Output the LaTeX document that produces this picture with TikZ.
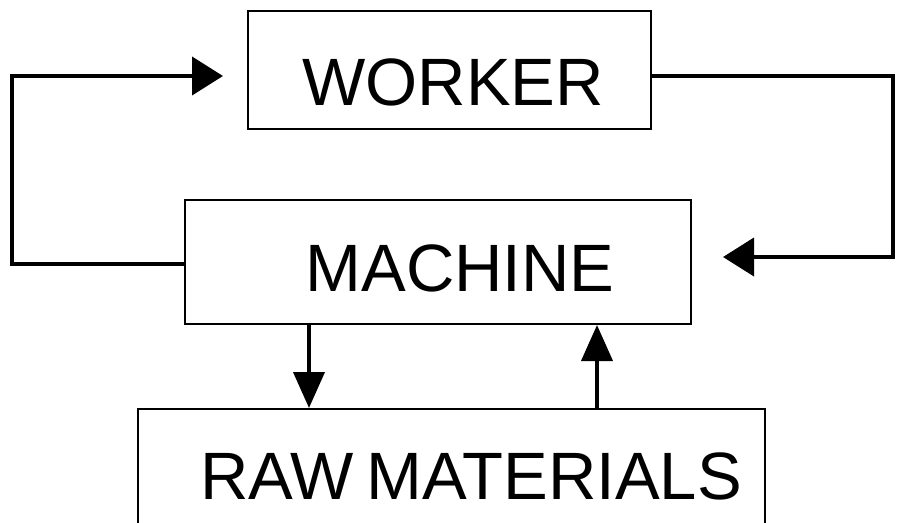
\documentclass[tikz,border=0pt]{standalone}
\usepackage{fontspec}
\setmainfont{Liberation Sans}
\usepackage{tikz}
\usetikzlibrary{arrows.meta}

\begin{document}
\begin{tikzpicture}[x=1pt,y=-1pt,
                    every box/.style=   {draw,line width=2pt,rectangle,inner sep=0pt},
                    caption/.style=     {inner sep=0pt,font=\fontsize{67}{80}\selectfont},
                    link/.style=        {line width=4pt},
                    side arrow/.style=  {link,-{Triangle[length=31pt,width=38pt]}},
                    down arrow/.style=  {link,-{Triangle[length=36pt,width=31pt]}}]
      \useasboundingbox (0,0) rectangle (901,522);
      \clip (0,0) rectangle (901,522);
      \node[every box, minimum width=403, minimum height=118] (worker) at (449.5,70) {};
      \node[every box, minimum width=506, minimum height=124] (machine) at (438,262) {};
      \node[every box, minimum width=627, minimum height=131] (raw) at (451.5,474.5) {};
      \node[caption] (workertext) at ([xshift=3.5pt,yshift=-12pt]worker.center) {WORKER};
      \node[caption] (machinetext) at ([xshift=22pt,yshift=-6.5pt]machine.center) {MACHINE};
      \node[caption] (rawtext) at ([xshift=19.5pt,yshift=-68pt]raw.north) {RAW\kern0.19em MATERIALS};
      \coordinate (workerin) at (223,76);
      \coordinate (machinein) at (723,257);
      \draw[side arrow] ([yshift=-2pt]machine.west) -- (12,264) -- (12,76) -- (workerin);
      \draw[side arrow] ([yshift=-6pt]worker.east) -- (893,76) -- (893,257) -- (machinein);
      \draw[down arrow] (machine.south -| 309,0) -- (raw.north -| 309,0);
      \draw[down arrow] (raw.north -| 597,0) -- (machine.south -| 597,0);
\end{tikzpicture}
\end{document}
